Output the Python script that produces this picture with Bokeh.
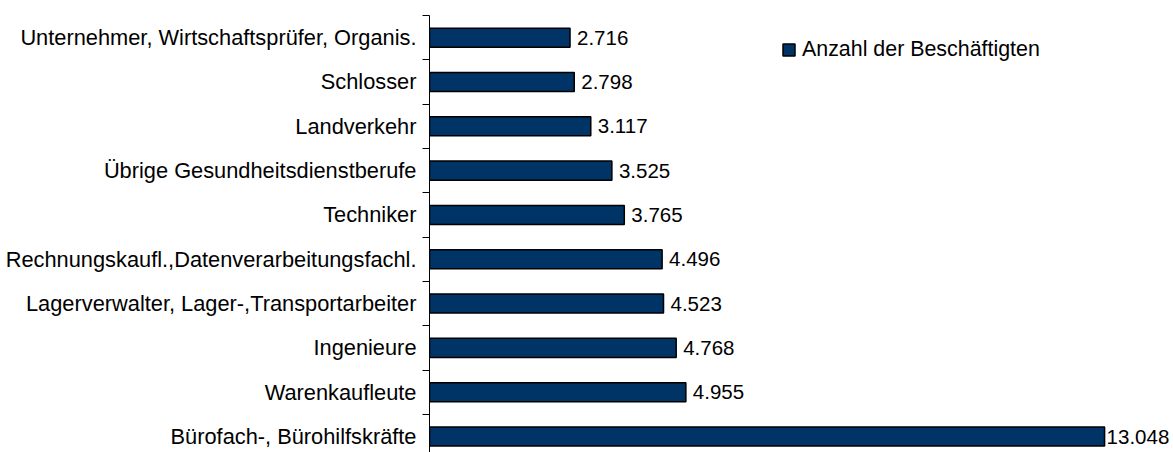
from bokeh.plotting import figure
from bokeh.models import Range1d, FixedTicker, ColumnDataSource, Legend, LegendItem
from bokeh.core.properties import value
from bokeh.embed import file_html
from bokeh.resources import INLINE

categories = [
    "Bürofach-, Bürohilfskräfte",
    "Warenkaufleute",
    "Ingenieure",
    "Lagerverwalter, Lager-,Transportarbeiter",
    "Rechnungskaufl.,Datenverarbeitungsfachl.",
    "Techniker",
    "Übrige Gesundheitsdienstberufe",
    "Landverkehr",
    "Schlosser",
    "Unternehmer, Wirtschaftsprüfer, Organis.",
]
values = [13.048, 4.955, 4.768, 4.523, 4.496, 3.765, 3.525, 3.117, 2.798, 2.716]
series_name = "Anzahl der Beschäftigten"

FONT = "Liberation Sans"

idx = list(range(len(categories)))
labels = [f"{v:.3f}" for v in values]
offsets = [2 if v > 12 else 7 for v in values]
src = ColumnDataSource(dict(y=idx, x=values, lab=labels, off=offsets))

p = figure(width=1173, height=452, output_backend="svg", toolbar_location=None,
           x_range=Range1d(0, 14.38), y_range=Range1d(-0.36, 9.5),
           min_border_left=429, min_border_top=15, min_border_right=0, min_border_bottom=0)
p.outline_line_color = None
p.xgrid.visible = False
p.ygrid.visible = False
p.xaxis.visible = False

bars = p.hbar(y="y", right="x", left=0, height=0.43, source=src,
              fill_color="#003366", line_color="black", line_width=1.5)

p.text(x="x", y="y", text="lab", x_offset="off", source=src,
       text_align="left", text_baseline="middle",
       text_font=value(FONT), text_font_size="20.5px", text_color="black")

ya = p.yaxis[0]
ya.ticker = FixedTicker(ticks=idx, minor_ticks=[i + 0.5 for i in range(-1, len(categories))])
ya.major_label_overrides = {i: c for i, c in zip(idx, categories)}
ya.major_tick_out = 0
ya.major_tick_in = 0
ya.minor_tick_out = 7
ya.minor_tick_in = 0
ya.minor_tick_line_color = "black"
ya.axis_line_color = "black"
ya.major_label_standoff = 6
ya.major_label_text_font = FONT
ya.major_label_text_font_size = "21.8px"
ya.major_label_text_color = "black"

legend = Legend(items=[LegendItem(label=series_name, renderers=[bars])],
                location=(352, 390), padding=0, margin=0, spacing=0,
                glyph_width=15, glyph_height=15, label_height=15,
                label_standoff=6, border_line_color=None,
                background_fill_alpha=0,
                label_text_font=FONT, label_text_font_size="21.4px",
                label_text_color="black")
p.add_layout(legend)

open("out.html", "w").write(file_html(p, INLINE))
